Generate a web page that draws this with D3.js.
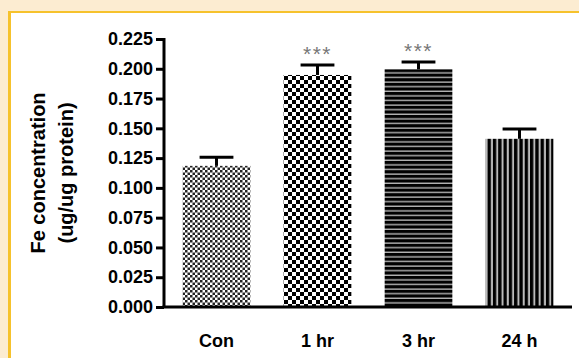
<!DOCTYPE html>
<html>
<head>
<meta charset="utf-8">
<script src="https://cdn.jsdelivr.net/npm/d3@7"></script>
<style>
  body { margin: 0; background: #fcecd1; }
  svg { display: block; }
  text { font-family: Arial, "Liberation Sans", Helvetica, sans-serif; }
</style>
</head>
<body>
<div id="chart"></div>
<script>
const groups = ['Con', '1 hr', '3 hr', '24 h'];
const means = [0.1185, 0.1948, 0.1995, 0.1412];
const errors = [0.0072, 0.0083, 0.0062, 0.0082];
const marks = ['', '***', '***', ''];
const yTicks = [0, 0.025, 0.05, 0.075, 0.1, 0.125, 0.15, 0.175, 0.2, 0.225];
const fills = ['fineCheck', 'bigCheck', 'hStripe', 'vStripe'];

const width = 579, height = 358;

const svg = d3.select('#chart').append('svg')
  .attr('width', width)
  .attr('height', height);

// page frame: cream outside, yellow rule, white panel
svg.append('rect').attr('width', width).attr('height', height).attr('fill', '#fcecd1');
svg.append('rect').attr('x', 8).attr('y', 11).attr('width', width - 8).attr('height', height - 11).attr('fill', '#f6c22c');
svg.append('rect').attr('x', 11).attr('y', 13).attr('width', width - 11).attr('height', height - 13).attr('fill', '#fff');

// hatch patterns
const defs = svg.append('defs');

const p1 = defs.append('pattern').attr('id', 'fineCheck')
  .attr('patternUnits', 'userSpaceOnUse').attr('width', 5).attr('height', 5);
p1.append('rect').attr('width', 5).attr('height', 5).attr('fill', '#fff');
p1.append('rect').attr('width', 2.5).attr('height', 2.5).attr('fill', '#222');
p1.append('rect').attr('x', 2.5).attr('y', 2.5).attr('width', 2.5).attr('height', 2.5).attr('fill', '#222');

const p2 = defs.append('pattern').attr('id', 'bigCheck')
  .attr('patternUnits', 'userSpaceOnUse').attr('width', 8).attr('height', 8);
p2.append('rect').attr('width', 8).attr('height', 8).attr('fill', '#fff');
p2.append('rect').attr('width', 4).attr('height', 4).attr('fill', '#000');
p2.append('rect').attr('x', 4).attr('y', 4).attr('width', 4).attr('height', 4).attr('fill', '#000');

const p3 = defs.append('pattern').attr('id', 'hStripe')
  .attr('patternUnits', 'userSpaceOnUse').attr('width', 8).attr('height', 4.6);
p3.append('rect').attr('width', 8).attr('height', 4.6).attr('fill', '#000');
p3.append('rect').attr('y', 3.2).attr('width', 8).attr('height', 1.4).attr('fill', '#b4b4b4');

const p4 = defs.append('pattern').attr('id', 'vStripe')
  .attr('patternUnits', 'userSpaceOnUse').attr('width', 5.3).attr('height', 8);
p4.append('rect').attr('width', 5.3).attr('height', 8).attr('fill', '#000');
p4.append('rect').attr('x', 3.3).attr('width', 2).attr('height', 8).attr('fill', '#bbb');

const x = d3.scaleBand()
  .domain(groups)
  .range([166, 570])
  .paddingInner(0.33)
  .paddingOuter(0.165);

const y = d3.scaleLinear()
  .domain([0, 0.225])
  .range([307, 39]);

// bars
svg.append('g').selectAll('rect')
  .data(groups)
  .enter().append('rect')
  .attr('x', d => x(d))
  .attr('y', (d, i) => y(means[i]))
  .attr('width', x.bandwidth())
  .attr('height', (d, i) => y(0) - y(means[i]))
  .attr('fill', (d, i) => 'url(#' + fills[i] + ')');

// error bars (upper only)
const err = svg.append('g').attr('stroke', '#000').attr('stroke-width', 3);
groups.forEach((g, i) => {
  const cx = x(g) + x.bandwidth() / 2;
  const half = x.bandwidth() / 4;
  err.append('line')
    .attr('x1', cx).attr('x2', cx)
    .attr('y1', y(means[i])).attr('y2', y(means[i] + errors[i]));
  err.append('line')
    .attr('x1', cx - half).attr('x2', cx + half)
    .attr('y1', y(means[i] + errors[i])).attr('y2', y(means[i] + errors[i]));
});

// significance stars
svg.append('g').selectAll('text')
  .data(groups)
  .enter().append('text')
  .attr('x', d => x(d) + x.bandwidth() / 2)
  .attr('y', (d, i) => y(means[i] + errors[i]) - 4)
  .attr('text-anchor', 'middle')
  .attr('font-size', 21)
  .attr('fill', '#777')
  .attr('letter-spacing', 1.5)
  .text((d, i) => marks[i]);

// y axis
const yAxis = svg.append('g')
  .attr('transform', 'translate(164,0)')
  .call(d3.axisLeft(y).tickValues(yTicks).tickFormat(d3.format('.3f')).tickSize(8).tickPadding(3));
yAxis.select('.domain').attr('stroke-width', 3).attr('d', 'M0,' + (y(0.225) - 1) + 'V' + y(0));
yAxis.selectAll('.tick line').attr('stroke-width', 3);
yAxis.selectAll('.tick text')
  .attr('font-size', 18).attr('font-weight', 'bold').attr('fill', '#000')
  .attr('font-family', 'Arial, "Liberation Sans", sans-serif');

// x axis
const xAxis = svg.append('g')
  .attr('transform', 'translate(0,' + y(0) + ')')
  .call(d3.axisBottom(x).tickSize(0).tickPadding(27));
xAxis.select('.domain').attr('stroke-width', 3).attr('d', 'M162.5,0H572');
xAxis.selectAll('.tick text')
  .attr('font-size', 18).attr('font-weight', 'bold').attr('fill', '#000')
  .attr('font-family', 'Arial, "Liberation Sans", sans-serif');

// y title
const title = svg.append('text')
  .attr('transform', 'translate(45,' + ((y(0) + y(0.225)) / 2) + ') rotate(-90)')
  .attr('text-anchor', 'middle')
  .attr('font-size', 20)
  .attr('font-weight', 'bold');
title.append('tspan').attr('x', 0).attr('y', 0).text('Fe concentration');
title.append('tspan').attr('x', 0).attr('y', 28).text('(ug/ug protein)');
</script>
</body>
</html>
